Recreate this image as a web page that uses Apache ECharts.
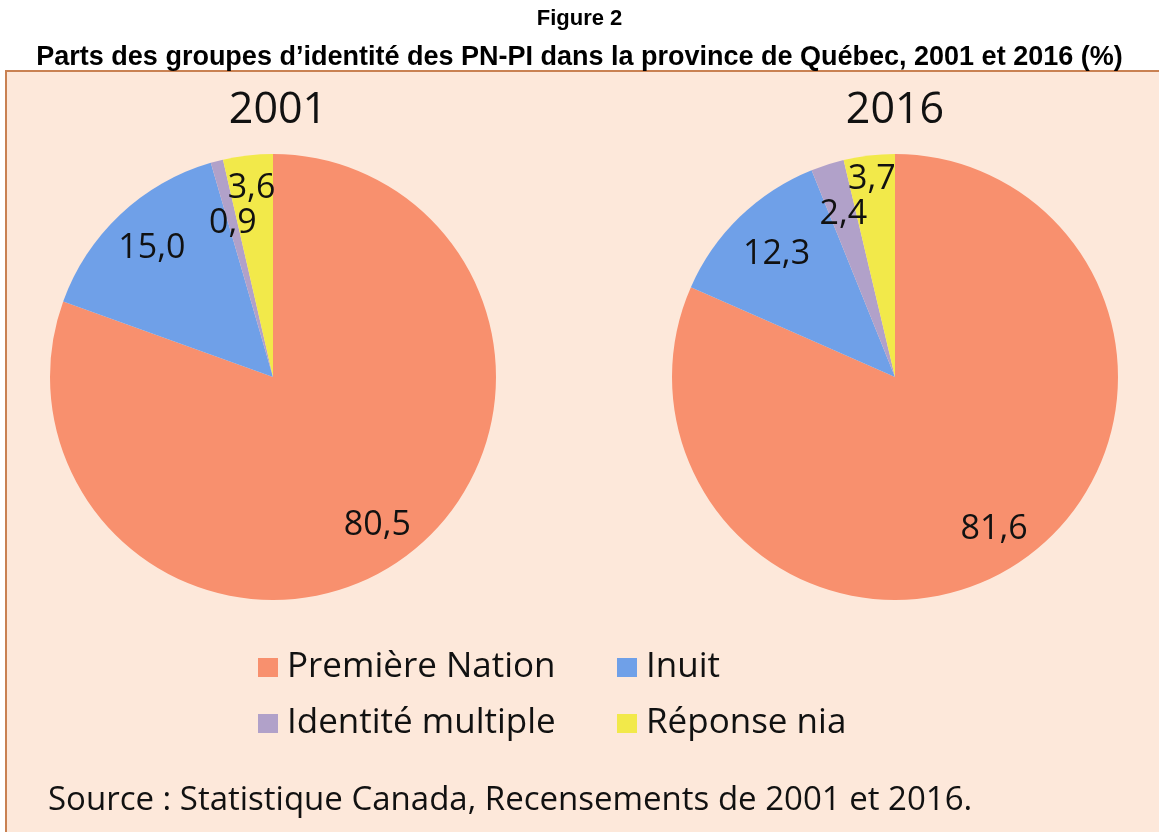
<!DOCTYPE html>
<html>
<head>
<meta charset="utf-8">
<script src="https://cdn.jsdelivr.net/npm/echarts@6/dist/echarts.min.js"></script>
<style>
html, body { margin: 0; padding: 0; background: #fff; }
#main { width: 1159px; height: 832px; }
</style>
</head>
<body>
<div id="main"></div>
<script>
// groupes d'identité, dans l'ordre horaire depuis midi
const groups = ['Première Nation', 'Inuit', 'Identité multiple', 'Réponse nia'];
const years = ['2001', '2016'];
const values2001 = [80.5, 15.0, 0.9, 3.6];
const values2016 = [81.6, 12.3, 2.4, 3.7];
const colors = ['#f8906e', '#6fa0e8', '#b1a1c9', '#f2e94a'];
// where each label sits, as a share of the radius
const labelDepth2001 = [0.80, 0.78, 0.70, 0.84];
const labelDepth2016 = [0.80, 0.75, 0.75, 0.88];

const font = '"Open Sans", Lato, sans-serif';
const R = 223;

function buildData(values, depth) {
    const total = values.reduce((a, b) => a + b, 0);
    let acc = 0;
    return values.map((v, i) => {
        const mid = (acc + v / 2) / total * Math.PI * 2;
        acc += v;
        const shift = (depth[i] - 0.5) * R;
        return {
            name: groups[i],
            value: v,
            label: { offset: [shift * Math.sin(mid), -shift * Math.cos(mid)] }
        };
    });
}

function pieSeries(values, depth, cx) {
    return {
        type: 'pie',
        center: [cx, 377],
        radius: R,
        startAngle: 90,
        clockwise: true,
        silent: true,
        animation: false,
        label: {
            show: true,
            position: 'inside',
            formatter: p => p.value.toFixed(1).replace('.', ','),
            color: '#111',
            fontSize: 34,
            fontFamily: font
        },
        labelLine: { show: false },
        itemStyle: { borderWidth: 0 },
        data: buildData(values, depth)
    };
}

function legendAt(name, x, y) {
    return {
        data: [name],
        left: x,
        top: y,
        icon: 'rect',
        itemWidth: 20,
        itemHeight: 19,
        selectedMode: false,
        textStyle: { fontSize: 35, fontFamily: font, color: '#111', padding: [0, 0, 0, 4] }
    };
}

const myChart = echarts.init(document.getElementById('main'));
const option = {
    color: colors,
    title: [
        {
            text: 'Figure 2',
            left: 'center', top: 3,
            textStyle: { fontSize: 22, fontWeight: 'bold', fontFamily: '"Liberation Sans", Arial, sans-serif', color: '#000' }
        },
        {
            text: 'Parts des groupes d’identité des PN-PI dans la province de Québec, 2001 et 2016 (%)',
            left: 'center', top: 39,
            textStyle: { fontSize: 27, fontWeight: 'bold', fontFamily: '"Liberation Sans", Arial, sans-serif', color: '#000' }
        },
        {
            text: years[0],
            left: 273, top: 84, textAlign: 'center',
            textStyle: { fontSize: 43, fontWeight: 'normal', fontFamily: font, color: '#111' }
        },
        {
            text: years[1],
            left: 890, top: 84, textAlign: 'center',
            textStyle: { fontSize: 43, fontWeight: 'normal', fontFamily: font, color: '#111' }
        }
    ],
    graphic: [
        {
            type: 'rect',
            z: -10,
            silent: true,
            shape: { x: 6, y: 71, width: 1170, height: 800 },
            style: { fill: '#fde8da', stroke: '#c98152', lineWidth: 2 }
        },
        {
            type: 'text',
            left: 48,
            top: 784,
            silent: true,
            style: {
                text: 'Source : Statistique Canada, Recensements de 2001 et 2016.',
                fontSize: 33,
                fontFamily: font,
                fill: '#111'
            }
        }
    ],
    legend: [
        legendAt(groups[0], 253, 645),
        legendAt(groups[1], 612, 645),
        legendAt(groups[2], 253, 701),
        legendAt(groups[3], 612, 701)
    ],
    series: [
        pieSeries(values2001, labelDepth2001, 273),
        pieSeries(values2016, labelDepth2016, 895)
    ]
};
myChart.setOption(option);
</script>
</body>
</html>
